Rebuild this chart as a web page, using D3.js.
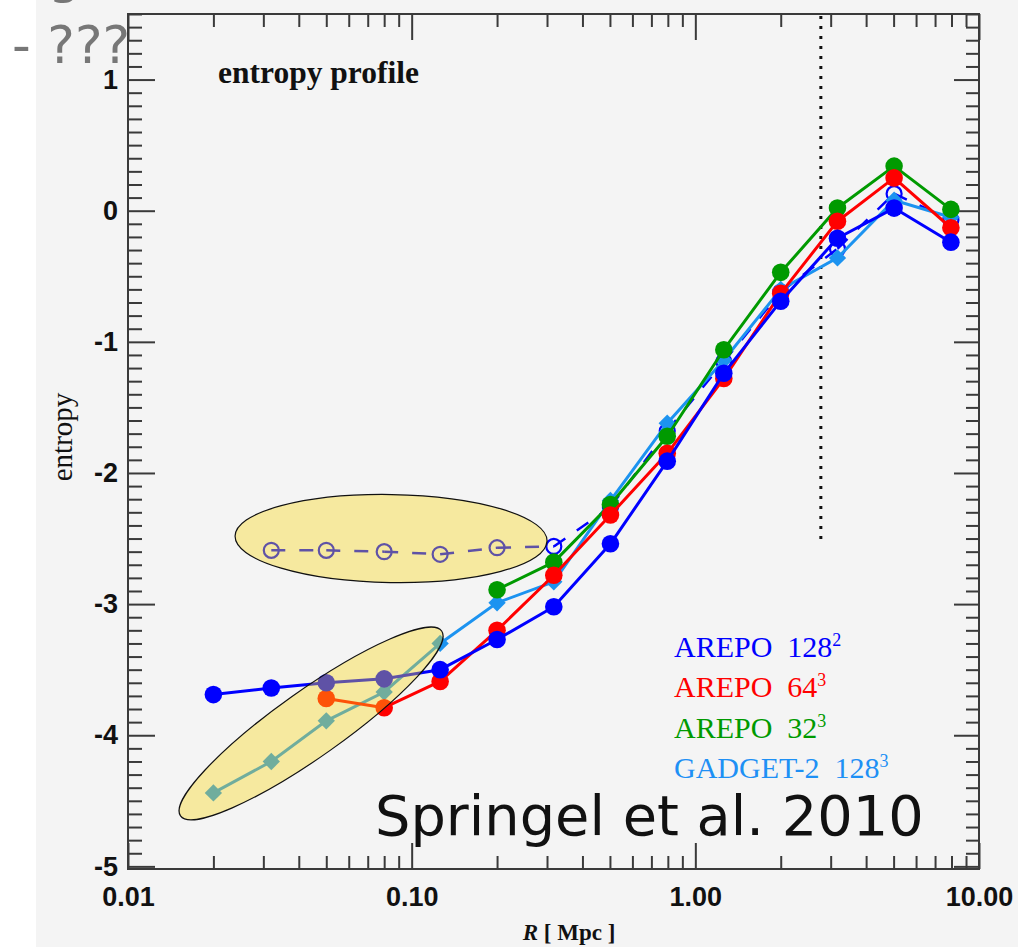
<!DOCTYPE html>
<html>
<head>
<meta charset="utf-8">
<script src="https://cdn.jsdelivr.net/npm/d3@7"></script>
<style>
  html, body { margin: 0; padding: 0; background: #ffffff; }
  svg { display: block; }
</style>
</head>
<body>
<svg id="chart" width="1018" height="947"></svg>
<script>
// Radial bins [Mpc]
const radii = [0.020, 0.032, 0.050, 0.080, 0.126, 0.200, 0.317, 0.502, 0.796, 1.26, 2.00, 3.17, 5.02, 7.96];

// Entropy per bin for each run (null = no value in that bin)
const arepo128 = [-3.69, -3.64, -3.60, -3.57, -3.50, -3.27, -3.02, -2.54, -1.91, -1.24, -0.69, -0.21, 0.02, -0.24];
const arepo64  = [null, null, -3.72, -3.79, -3.59, -3.20, -2.78, -2.32, -1.85, -1.28, -0.63, -0.08, 0.25, -0.13];
const arepo32  = [null, null, null, null, null, -2.89, -2.68, -2.24, -1.72, -1.06, -0.47, 0.02, 0.34, 0.01];
const gadget128 = [-4.44, -4.20, -3.89, -3.67, -3.30, -2.99, -2.83, -2.21, -1.62, -1.14, -0.60, -0.36, 0.08, -0.05];
const arepo128Open = [null, -2.59, -2.59, -2.60, -2.62, -2.57, -2.56, -2.26, -1.68, -1.15, -0.62, -0.29, 0.13, -0.07];

// Axis ticks
const xMajorTicks = [0.01, 0.1, 1, 10];
const yMajorTicks = [-5, -4, -3, -2, -1, 0, 1];

// Legend entries
const legendNames = ["AREPO  128", "AREPO  64", "AREPO  32", "GADGET-2  128"];
const legendPowers = ["2", "3", "3", "3"];

// Vertical marker radius [Mpc] and its lower end in entropy
const markerRadius = 2.77;
const markerBottom = -2.52;

const svg = d3.select("#chart");
const W = 1018, H = 947;
const plot = { left: 128, right: 979, top: 14, bottom: 869 };

const colors = {
  a128: "#0000ff",
  a64: "#ff0000",
  a32: "#009a00",
  gadget: "#1c93f0",
  axis: "#3a3a3a"
};

// backdrop
svg.append("rect").attr("x", 0).attr("y", 0).attr("width", W).attr("height", H).attr("fill", "#ffffff");
svg.append("rect").attr("x", 36).attr("y", 0).attr("width", W - 36).attr("height", H).attr("fill", "#f4f4f4");

const x = d3.scaleLog().domain([0.01, 10]).range([plot.left, plot.right]);
const y = d3.scaleLinear().domain([-5.02, 1.5]).range([plot.bottom, plot.top]);

// ---- axes ----
const xMinor = x.ticks().filter(v => Math.abs(Math.log10(v) - Math.round(Math.log10(v))) > 1e-6);
const yMinor = d3.range(-50, 16).map(i => i / 10).filter(v => Math.abs(v - Math.round(v)) > 1e-6);

function styleAxis(g) {
  g.select(".domain").remove();
  g.selectAll(".tick line").attr("stroke", colors.axis).attr("stroke-width", 2);
  g.selectAll(".tick text")
    .attr("fill", "#111")
    .style("font-family", "'Liberation Sans', Arial, sans-serif")
    .style("font-size", "27px")
    .style("font-weight", "bold");
}

svg.append("g").attr("transform", `translate(0,${plot.bottom})`)
  .call(d3.axisBottom(x).tickValues(xMajorTicks).tickSize(-26).tickPadding(18).tickFormat(d3.format(".2f")))
  .call(styleAxis);
svg.append("g").attr("transform", `translate(0,${plot.bottom})`)
  .call(d3.axisBottom(x).tickValues(xMinor).tickSize(-13).tickFormat(""))
  .call(styleAxis);
svg.append("g").attr("transform", `translate(0,${plot.top})`)
  .call(d3.axisTop(x).tickValues(xMajorTicks).tickSize(-26).tickFormat(""))
  .call(styleAxis);
svg.append("g").attr("transform", `translate(0,${plot.top})`)
  .call(d3.axisTop(x).tickValues(xMinor).tickSize(-13).tickFormat(""))
  .call(styleAxis);

svg.append("g").attr("transform", `translate(${plot.left},0)`)
  .call(d3.axisLeft(y).tickValues(yMajorTicks).tickSize(-27).tickPadding(10).tickFormat(v => String(v)))
  .call(styleAxis);
svg.append("g").attr("transform", `translate(${plot.left},0)`)
  .call(d3.axisLeft(y).tickValues(yMinor).tickSize(-14).tickFormat(""))
  .call(styleAxis);
svg.append("g").attr("transform", `translate(${plot.right},0)`)
  .call(d3.axisRight(y).tickValues(yMajorTicks).tickSize(-25).tickFormat(""))
  .call(styleAxis);
svg.append("g").attr("transform", `translate(${plot.right},0)`)
  .call(d3.axisRight(y).tickValues(yMinor).tickSize(-13).tickFormat(""))
  .call(styleAxis);

// frame
svg.append("rect")
  .attr("x", plot.left).attr("y", plot.top)
  .attr("width", plot.right - plot.left).attr("height", plot.bottom - plot.top)
  .attr("fill", "none").attr("stroke", colors.axis).attr("stroke-width", 2);

// axis titles
svg.append("text")
  .attr("transform", "translate(72,437) rotate(-90)")
  .attr("text-anchor", "middle")
  .style("font-family", "'Liberation Serif', 'Times New Roman', serif")
  .style("font-size", "29px")
  .attr("fill", "#111")
  .text("entropy");

const xTitle = svg.append("text")
  .attr("x", 569).attr("y", 940)
  .attr("text-anchor", "middle")
  .style("font-family", "'Liberation Serif', 'Times New Roman', serif")
  .style("font-size", "23px")
  .style("font-weight", "bold")
  .attr("fill", "#111");
xTitle.append("tspan").style("font-style", "italic").text("R");
xTitle.append("tspan").text(" [ Mpc ]");

svg.append("text")
  .attr("x", 218).attr("y", 83)
  .style("font-family", "'Liberation Serif', 'Times New Roman', serif")
  .style("font-size", "31.5px")
  .style("font-weight", "bold")
  .attr("fill", "#111")
  .text("entropy profile");

// vertical dotted marker
svg.append("line")
  .attr("x1", x(markerRadius)).attr("x2", x(markerRadius))
  .attr("y1", y(1.5) + 2).attr("y2", y(markerBottom))
  .attr("stroke", "#111").attr("stroke-width", 3)
  .attr("stroke-dasharray", "3 7");

// ---- data ----
function pts(vals) {
  return radii.map((r, i) => ({ r, v: vals[i] })).filter(d => d.v !== null);
}
const line = d3.line().x(d => x(d.r)).y(d => y(d.v));

function drawSolid(vals, color) {
  const p = pts(vals);
  svg.append("path").datum(p).attr("d", line)
    .attr("fill", "none").attr("stroke", color).attr("stroke-width", 3).attr("stroke-linejoin", "round");
  svg.append("g").selectAll("circle").data(p).join("circle")
    .attr("cx", d => x(d.r)).attr("cy", d => y(d.v)).attr("r", 8.8)
    .attr("fill", color);
}

// dashed run with open circles
{
  const p = pts(arepo128Open);
  const segs = d3.pairs(p);
  svg.append("g").selectAll("path").data(segs).join("path")
    .attr("d", d => line(d))
    .attr("fill", "none").attr("stroke", colors.a128).attr("stroke-width", 2.5)
    .attr("stroke-dasharray", "14 14");
  svg.append("g").selectAll("circle").data(p).join("circle")
    .attr("cx", d => x(d.r)).attr("cy", d => y(d.v)).attr("r", 7.5)
    .attr("fill", "none").attr("stroke", colors.a128).attr("stroke-width", 2.2);
}

// GADGET-2 run with diamonds
{
  const p = pts(gadget128);
  svg.append("path").datum(p).attr("d", line)
    .attr("fill", "none").attr("stroke", colors.gadget).attr("stroke-width", 3);
  const sym = d3.symbol().type(d3.symbolSquare).size(150);
  svg.append("g").selectAll("path").data(p).join("path")
    .attr("d", sym)
    .attr("transform", d => `translate(${x(d.r)},${y(d.v)}) rotate(45)`)
    .attr("fill", colors.gadget);
}

drawSolid(arepo32, colors.a32);
drawSolid(arepo64, colors.a64);
drawSolid(arepo128, colors.a128);

// highlighted regions (translucent, drawn over the data)
const highlights = [
  { r: 0.0846, v: -2.50, rx: 156, ry: 44, angle: 0.9 },
  { r: 0.0442, v: -3.91, rx: 160, ry: 33, angle: -35.3 }
];
svg.append("g").selectAll("ellipse").data(highlights).join("ellipse")
  .attr("cx", 0).attr("cy", 0)
  .attr("rx", d => d.rx).attr("ry", d => d.ry)
  .attr("transform", d => `translate(${x(d.r)},${y(d.v)}) rotate(${d.angle})`)
  .attr("fill", "rgba(250,215,20,0.38)")
  .attr("stroke", "#111").attr("stroke-width", 1.2);

// legend
const legendColors = [colors.a128, colors.a64, colors.a32, "#1e90f5"];
const legend = svg.append("g");
legendNames.forEach((name, i) => {
  const t = legend.append("text")
    .attr("x", 674).attr("y", 657 + i * 40.3)
    .attr("fill", legendColors[i])
    .style("font-family", "'Liberation Serif', 'Times New Roman', serif")
    .style("font-size", "30px")
    .style("white-space", "pre")
    .attr("xml:space", "preserve");
  t.append("tspan").text(name);
  t.append("tspan").attr("dy", -11).style("font-size", "18px").text(legendPowers[i]);
});

// citation
svg.append("text")
  .attr("x", 375).attr("y", 835)
  .style("font-family", "'DejaVu Sans', sans-serif")
  .style("font-size", "55.8px")
  .attr("fill", "#111")
  .text("Springel et al. 2010");

// slide heading fragments
svg.append("text")
  .attr("x", 48).attr("y", -8)
  .style("font-family", "'DejaVu Sans', sans-serif")
  .style("font-size", "52px")
  .attr("fill", "#777")
  .text("g");
svg.append("text")
  .attr("x", 12).attr("y", 63)
  .style("font-family", "'DejaVu Sans', sans-serif")
  .style("font-size", "52px")
  .attr("fill", "#777")
  .attr("xml:space", "preserve")
  .style("white-space", "pre")
  .text("- ???");
</script>
</body>
</html>
